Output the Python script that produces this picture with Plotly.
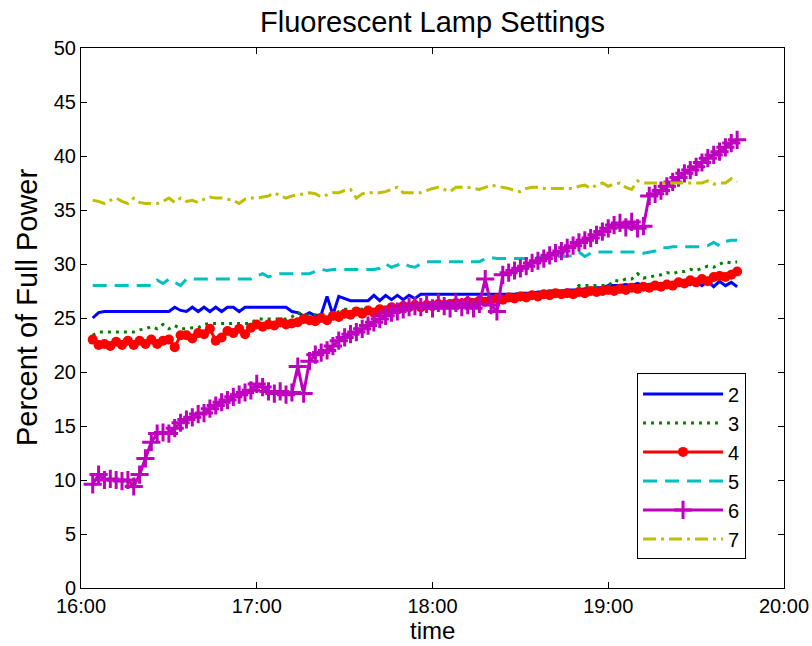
import pandas as pd
import plotly.graph_objects as go

# Sample times: one reading every two minutes, 16:04 to 19:44
times = pd.date_range("2012-01-01 16:04", periods=111, freq="2min")

lamp_2 = [
    25.0, 25.5, 25.6, 25.6, 25.6, 25.6, 25.6, 25.6, 25.6, 25.6,
    25.6, 25.6, 25.6, 25.6, 26.0, 25.7, 25.6, 26.0, 25.6, 26.0,
    25.6, 26.0, 25.6, 26.0, 26.0, 25.6, 26.0, 26.0, 26.0, 26.0,
    26.0, 26.0, 26.0, 26.0, 25.6, 25.5, 25.2, 25.5, 25.2, 25.3,
    27.0, 25.3, 27.0, 26.8, 26.6, 26.6, 26.6, 26.6, 27.1, 26.6,
    27.1, 26.7, 27.1, 26.7, 27.1, 26.8, 27.2, 27.2, 27.2, 27.2,
    27.2, 27.2, 27.2, 27.2, 27.2, 27.2, 27.2, 27.2, 27.2, 27.2,
    27.2, 27.2, 27.2, 27.3, 27.3, 27.3, 27.4, 27.4, 27.5, 27.5,
    27.5, 27.6, 27.6, 27.6, 27.7, 27.7, 27.8, 27.8, 28.0, 28.0,
    28.0, 28.1, 28.0, 28.2, 28.0, 28.1, 28.2, 28.1, 28.2, 28.0,
    28.2, 28.3, 28.1, 28.4, 28.0, 28.4, 27.9, 28.4, 28.0, 28.3, 27.9,
]

lamp_3 = [
    23.4, 23.7, 23.7, 23.7, 23.7, 23.7, 23.7, 23.7, 23.9, 24.0,
    24.2, 24.0, 24.4, 24.0, 24.3, 24.0, 24.0, 24.1, 24.1, 24.4,
    24.5, 24.5, 24.5, 24.5, 24.5, 24.5, 24.5, 24.5, 24.9, 24.9,
    24.9, 24.9, 24.9, 24.9, 25.1, 25.5, 25.3, 25.3, 25.3, 25.3,
    25.3, 25.3, 25.6, 25.8, 25.8, 25.8, 25.8, 25.8, 26.0, 26.0,
    26.0, 26.0, 26.0, 26.3, 26.3, 26.3, 26.3, 26.3, 26.3, 26.5,
    26.5, 26.5, 26.5, 26.5, 26.5, 26.8, 26.8, 26.8, 26.8, 26.8,
    26.8, 27.2, 27.2, 27.2, 27.2, 27.2, 27.2, 27.5, 27.5, 27.5,
    27.5, 27.5, 27.5, 28.0, 28.0, 28.0, 28.0, 28.0, 28.0, 28.5,
    28.4, 28.6, 28.6, 29.1, 28.7, 28.8, 28.9, 29.0, 29.2, 29.1,
    29.3, 29.3, 29.5, 29.4, 29.6, 29.8, 29.7, 30.0, 30.2, 30.1, 30.2,
]

lamp_4 = [
    23.0, 22.5, 22.6, 22.4, 22.8, 22.5, 22.9, 22.5, 22.9, 22.6,
    23.0, 22.6, 22.9, 23.0, 22.3, 23.4, 23.4, 23.1, 23.6, 23.5,
    24.0, 22.9, 23.2, 23.8, 23.6, 24.0, 23.5, 24.1, 24.4, 24.2,
    24.4, 24.3, 24.6, 24.4, 24.5, 24.6, 24.9, 24.8, 24.7, 25.0,
    24.8, 25.2, 25.1, 25.4, 25.3, 25.6, 25.4, 25.7, 25.5, 25.8,
    25.7, 26.0, 25.8, 26.1, 26.0, 26.2, 26.0, 26.2, 26.1, 26.3,
    26.2, 26.3, 26.4, 26.3, 26.5, 26.4, 26.6, 26.5, 26.7, 26.8,
    26.7, 26.9, 26.8, 27.0, 26.9, 27.1, 27.0, 27.2, 27.1, 27.3,
    27.2, 27.3, 27.2, 27.4, 27.3, 27.5, 27.4, 27.5, 27.6, 27.5,
    27.7, 27.6, 27.8, 27.7, 27.9, 27.8, 28.0, 27.9, 28.1, 28.0,
    28.3, 28.2, 28.5, 28.3, 28.6, 28.4, 28.8, 28.9, 28.8, 29.0, 29.3,
]

lamp_5 = [
    28.0, 28.0, 28.0, 28.0, 28.0, 28.0, 28.0, 28.0, 28.0, 28.0,
    28.0, 28.5, 28.2, 28.6, 28.3, 28.0, 28.6, 28.6, 28.6, 28.6,
    28.6, 28.6, 28.6, 28.6, 28.6, 28.6, 28.6, 28.6, 28.9, 29.1,
    28.8, 29.0, 29.1, 29.1, 29.1, 29.1, 29.1, 29.1, 29.3, 29.5,
    29.4, 29.5, 29.5, 29.5, 29.5, 29.5, 29.5, 29.5, 29.5, 29.6,
    30.0, 29.7, 29.9, 30.1, 29.8, 29.7, 30.0, 30.2, 30.2, 30.2,
    30.2, 30.2, 30.2, 30.2, 30.2, 30.2, 30.2, 30.5, 30.6, 30.5,
    30.5, 30.5, 30.5, 30.5, 30.5, 30.5, 30.6, 30.7, 30.7, 30.7,
    30.7, 30.7, 30.8, 31.1, 30.7, 31.0, 31.1, 31.1, 31.1, 31.1,
    31.1, 31.1, 31.1, 31.1, 31.0, 31.1, 31.2, 31.5, 31.5, 31.6,
    31.6, 31.6, 31.6, 31.6, 31.6, 31.7, 32.0, 31.7, 32.1, 32.2, 32.2,
]

lamp_6 = [
    9.6, 10.5, 10.0, 10.1, 10.0, 9.9, 10.0, 9.4, 10.5, 12.0,
    13.5, 14.3, 14.4, 14.3, 14.8, 15.3, 15.6, 15.8, 16.1, 16.2,
    16.6, 16.9, 17.2, 17.4, 17.7, 17.9, 18.1, 18.3, 18.9, 18.6,
    18.2, 18.0, 18.2, 17.9, 18.1, 20.5, 18.0, 21.0, 21.6, 21.8,
    22.0, 22.4, 22.9, 23.2, 23.5, 23.7, 24.0, 24.3, 24.6, 24.9,
    25.2, 25.5, 25.6, 25.8, 26.0, 26.1, 26.0, 26.3, 25.9, 26.4,
    26.1, 25.9, 26.4, 26.0, 26.2, 25.9, 26.3, 28.6, 26.2, 25.6,
    29.0, 29.2, 29.4, 29.6, 29.8, 30.1, 30.3, 30.5, 30.8, 31.0,
    31.2, 31.5, 31.7, 32.0, 32.2, 32.4, 32.7, 33.0, 33.3, 33.6,
    33.8, 33.4, 33.9, 33.3, 33.5, 36.3, 36.5, 36.8, 37.2, 37.6,
    38.0, 38.4, 38.7, 39.0, 39.4, 39.8, 40.1, 40.4, 40.8, 41.2, 41.5,
]

lamp_7 = [
    35.9, 35.8, 35.6, 35.9, 36.1, 35.8, 35.6, 36.1, 35.7, 35.6,
    35.6, 35.6, 35.8, 36.1, 35.7, 36.1, 35.8, 35.9, 35.7, 36.0,
    36.2, 36.1, 36.1, 36.0, 35.9, 35.6, 36.0, 36.1, 36.1, 36.2,
    36.3, 36.6, 36.3, 36.1, 36.3, 36.4, 36.5, 36.6, 36.5, 36.2,
    36.4, 36.6, 36.6, 36.8, 36.9, 36.1, 36.5, 36.6, 36.6, 36.6,
    36.7, 36.9, 37.1, 36.6, 36.6, 36.6, 36.6, 36.8, 37.0, 37.1,
    36.9, 36.7, 37.1, 37.1, 37.1, 37.0, 36.9, 37.1, 37.3, 37.2,
    37.1, 37.0, 36.8, 36.7, 37.0, 37.1, 37.1, 37.0, 37.0, 37.0,
    37.0, 37.0, 37.0, 37.2, 37.3, 37.0, 37.3, 37.5, 37.2, 37.4,
    37.5, 37.1, 36.9, 37.7, 37.5, 37.5, 37.5, 37.5, 37.5, 37.5,
    37.5, 37.5, 37.5, 37.5, 37.5, 37.7, 37.4, 37.5, 37.5, 37.9, 37.6,
]

series_names = ["2", "3", "4", "5", "6", "7"]
FONT = "Arial, Liberation Sans, sans-serif"

fig = go.Figure()

fig.add_trace(go.Scatter(x=times, y=lamp_2, name=series_names[0], mode="lines",
                         line=dict(color="#0000ff", width=3)))
fig.add_trace(go.Scatter(x=times, y=lamp_3, name=series_names[1], mode="lines",
                         line=dict(color="#008000", width=3, dash="3px,5px")))
fig.add_trace(go.Scatter(x=times, y=lamp_4, name=series_names[2], mode="lines+markers",
                         line=dict(color="#ff0000", width=3),
                         marker=dict(symbol="circle", size=10, color="#ff0000")))
fig.add_trace(go.Scatter(x=times, y=lamp_5, name=series_names[3], mode="lines",
                         line=dict(color="#00bfbf", width=3, dash="14px,8px")))
fig.add_trace(go.Scatter(x=times, y=lamp_6, name=series_names[4], mode="lines+markers",
                         line=dict(color="#bf00bf", width=3),
                         marker=dict(symbol="cross-thin", size=13,
                                     line=dict(color="#bf00bf", width=3))))
fig.add_trace(go.Scatter(x=times, y=lamp_7, name=series_names[5], mode="lines",
                         line=dict(color="#bfbf00", width=3, dash="13px,5px,3px,5px")))

axis_common = dict(
    showgrid=False, zeroline=False, automargin=False,
    showline=True, linecolor="black", linewidth=1, mirror="ticks",
    ticks="inside", ticklen=6, tickcolor="black",
    tickfont=dict(family=FONT, size=20, color="black"),
)

fig.update_layout(
    width=812, height=646,
    margin=dict(l=81, r=28, t=48, b=58),
    paper_bgcolor="white", plot_bgcolor="white",
    font=dict(family=FONT, color="black"),
    title=dict(text="Fluorescent Lamp Settings", x=0.5, xref="paper", xanchor="center",
               y=0.966, yref="container", yanchor="middle",
               font=dict(family=FONT, size=29, color="black")),
    xaxis=dict(axis_common,
               range=["2012-01-01 16:00", "2012-01-01 20:00"],
               tickformat="%H:%M", dtick=3600000),
    yaxis=dict(axis_common, range=[0, 50], dtick=5),
    legend=dict(x=0.946, y=0.053, xanchor="right", yanchor="bottom",
                bgcolor="white", bordercolor="black", borderwidth=1,
                font=dict(family=FONT, size=20, color="black"),
                itemwidth=80),
    showlegend=True,
)

# Axis titles placed as annotations so they stay inside the page
fig.add_annotation(text="time", xref="paper", yref="paper", x=0.5, y=-0.107,
                   xanchor="center", yanchor="bottom", showarrow=False,
                   font=dict(family=FONT, size=24, color="black"))
fig.add_annotation(text="Percent of Full Power", xref="paper", yref="paper",
                   x=-0.077, y=0.52, xanchor="center", yanchor="middle",
                   textangle=-90, showarrow=False,
                   font=dict(family=FONT, size=29, color="black"))

fig.write_html("out.html")
